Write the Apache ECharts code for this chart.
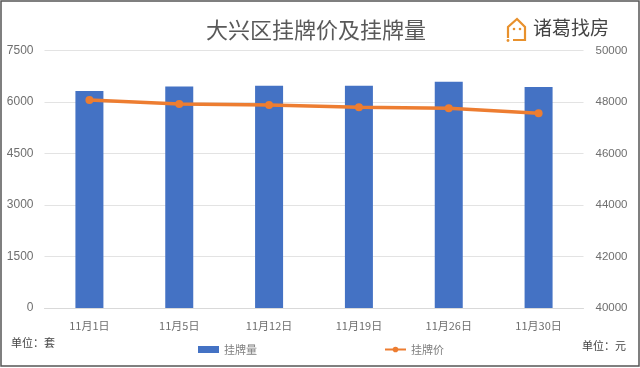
<!DOCTYPE html>
<html>
<head>
<meta charset="utf-8">
<style>
  html, body { margin: 0; padding: 0; background: #fff; }
  #chart { width: 640px; height: 368px; }
</style>
<script src="https://cdn.jsdelivr.net/npm/echarts@6/dist/echarts.min.js"></script>
</head>
<body>
<div id="chart"></div>
<script>
const categories = ['11月1日', '11月5日', '11月12日', '11月19日', '11月26日', '11月30日'];
const listingCounts = [6320, 6450, 6470, 6470, 6590, 6435];
const listingPrices = [48080, 47920, 47880, 47800, 47760, 47560];

const font = '"Noto Sans CJK SC", "Liberation Sans", sans-serif';
const numberFont = '"Liberation Sans", sans-serif';
const myChart = echarts.init(document.getElementById('chart'), null, { renderer: 'canvas' });

myChart.setOption({
  animation: false,
  backgroundColor: '#fff',
  textStyle: { fontFamily: font },
  title: {
    text: '大兴区挂牌价及挂牌量',
    left: 311,
    top: 14,
    textAlign: 'center',
    textStyle: { fontSize: 22, fontWeight: 'normal', color: '#595959', fontFamily: font },
  },
  legend: {
    left: 193,
    top: 339,
    itemGap: 127,
    itemWidth: 21,
    itemHeight: 7,
    textStyle: { fontSize: 11, color: '#7f7f7f' },
    data: [
      { name: '挂牌量', icon: 'rect' },
      { name: '挂牌价' },
    ],
  },
  grid: { left: 44.5, right: 56.5, top: 50.5, bottom: 60 },
  xAxis: {
    type: 'category',
    data: categories,
    axisTick: { show: false },
    axisLine: { lineStyle: { color: '#d9d9d9' } },
    axisLabel: { fontSize: 11, color: '#6f6f6f', margin: 12 },
  },
  yAxis: [
    {
      type: 'value',
      min: 0,
      max: 7500,
      interval: 1500,
      axisLabel: { fontSize: 12, color: '#6f6f6f', margin: 11, fontFamily: numberFont, formatter: (v) => String(v) },
      axisLine: { show: false },
      axisTick: { show: false },
      splitLine: { lineStyle: { color: '#e3e3e3' } },
    },
    {
      type: 'value',
      min: 40000,
      max: 50000,
      interval: 2000,
      axisLabel: { fontSize: 11.5, color: '#6f6f6f', margin: 12, fontFamily: numberFont, formatter: (v) => String(v) },
      axisLine: { show: false },
      axisTick: { show: false },
      splitLine: { show: false },
    },
  ],
  series: [
    {
      name: '挂牌量',
      type: 'bar',
      data: listingCounts,
      barWidth: 28,
      itemStyle: { color: '#4472c4' },
    },
    {
      name: '挂牌价',
      type: 'line',
      yAxisIndex: 1,
      data: listingPrices,
      symbol: 'circle',
      symbolSize: 8,
      lineStyle: { color: '#ed7d31', width: 3.5 },
      itemStyle: { color: '#ed7d31' },
    },
  ],
  graphic: [
    // outer frame
    {
      type: 'rect',
      shape: { x: 1, y: 1, width: 638, height: 365 },
      style: { fill: 'none', stroke: '#555', lineWidth: 1.5 },
      silent: true,
    },
    // logo house
    {
      type: 'polyline',
      shape: { points: [[508, 38], [508, 27], [517, 19], [525, 27], [525, 40], [513, 40]] },
      style: { fill: 'none', stroke: '#e8912d', lineWidth: 2.2 },
      silent: true,
    },
    { type: 'circle', shape: { cx: 508, cy: 40.5, r: 1.4 }, style: { fill: '#e8912d' }, silent: true },
    { type: 'circle', shape: { cx: 514, cy: 29, r: 1.3 }, style: { fill: '#e8912d' }, silent: true },
    { type: 'circle', shape: { cx: 520, cy: 29, r: 1.3 }, style: { fill: '#e8912d' }, silent: true },
    {
      type: 'text',
      left: 533,
      top: 18,
      style: { text: '诸葛找房', fontSize: 19, fontFamily: font, fill: '#444' },
      silent: true,
    },
    { type: 'text', left: 11, top: 337, style: { text: '单位：套', fontSize: 11, fontFamily: font, fill: '#444' }, silent: true },
    { type: 'text', left: 582, top: 340, style: { text: '单位：元', fontSize: 11, fontFamily: font, fill: '#444' }, silent: true },
  ],
});
</script>
</body>
</html>
